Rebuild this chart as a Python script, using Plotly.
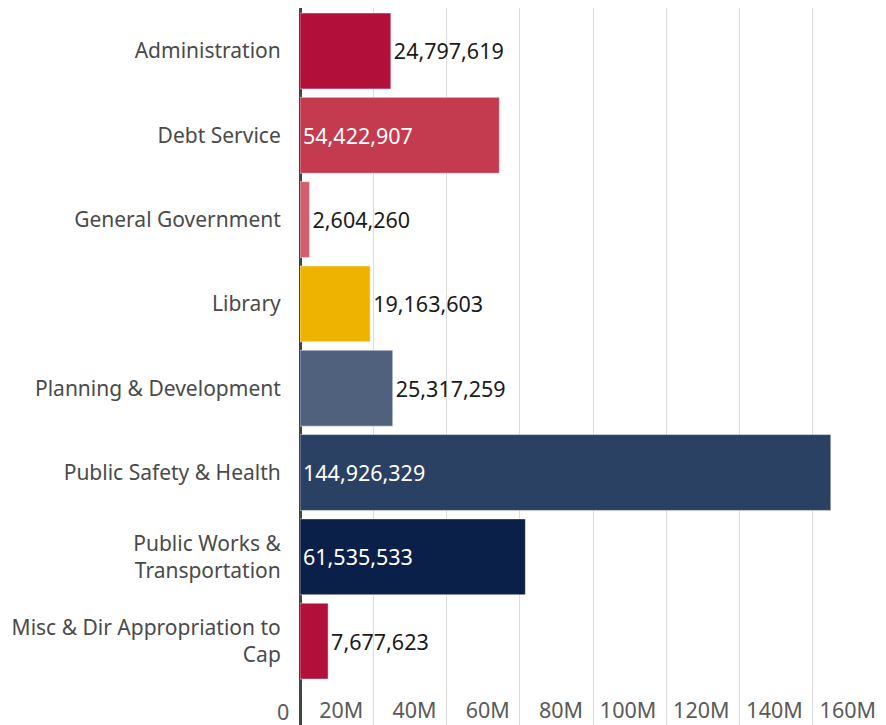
import plotly.graph_objects as go

categories = [
    "Administration",
    "Debt Service",
    "General Government",
    "Library",
    "Planning & Development",
    "Public Safety & Health",
    "Public Works &<br>Transportation",
    "Misc & Dir Appropriation to<br>Cap",
]
values = [24797619, 54422907, 2604260, 19163603, 25317259, 144926329, 61535533, 7677623]
bar_colors = ["#B20F3B", "#C43B50", "#D0606D", "#EEB200", "#4F617D", "#2B4163", "#0B2048", "#B20F3B"]
tick_vals = [0, 20e6, 40e6, 60e6, 80e6, 100e6, 120e6, 140e6, 160e6]
tick_text = ["0", "20M", "40M", "60M", "80M", "100M", "120M", "140M", "160M"]

FONT = "Noto Sans"
FS_Y = 21
FS_T = 21.5

fig = go.Figure(
    go.Bar(
        y=categories,
        x=values,
        orientation="h",
        marker=dict(color=bar_colors, line=dict(color="rgba(255,255,255,0.45)", width=1)),
        text=[f"{v:,}" for v in values],
        textposition="auto",
        insidetextanchor="start",
        insidetextfont=dict(color="white", size=FS_T, family=FONT),
        outsidetextfont=dict(color="#1a1a1a", size=FS_T, family=FONT),
        cliponaxis=False,
        hoverinfo="skip",
    )
)

fig.update_layout(
    width=878,
    height=717,
    margin=dict(l=292, r=0, t=0, b=0, autoexpand=False),
    paper_bgcolor="white",
    plot_bgcolor="white",
    bargap=0.1,
    showlegend=False,
    font=dict(family=FONT, size=FS_Y, color="#4a4a4a"),
    xaxis=dict(
        range=[0, 160e6],
        tickvals=tick_vals,
        ticktext=tick_text,
        ticklabelposition="inside left",
        ticklabelshift=-10,
        ticklabelstandoff=-3,
        tickfont=dict(size=FS_T, color="#5a5a5a", family=FONT),
        showgrid=True,
        gridcolor="#dcdcdc",
        gridwidth=1,
        zeroline=True,
        zerolinecolor="#444444",
        zerolinewidth=3,
        showline=False,
        automargin=False,
    ),
    yaxis=dict(
        categoryorder="array",
        categoryarray=categories,
        range=[7.995, -0.51],
        tickfont=dict(size=FS_Y, color="#4a4a4a", family=FONT),
        ticks="outside",
        ticklen=14,
        tickcolor="rgba(0,0,0,0)",
        showgrid=False,
        zeroline=False,
        showline=False,
        automargin=False,
    ),
    annotations=[
        dict(
            x=tick_vals[0], xref="x", y=0, yref="paper",
            text=tick_text[0], showarrow=False,
            xanchor="right", yanchor="bottom", xshift=-9, yshift=-3,
            font=dict(size=FS_T, color="#5a5a5a", family=FONT),
        )
    ],
)

fig.write_html("out.html")
